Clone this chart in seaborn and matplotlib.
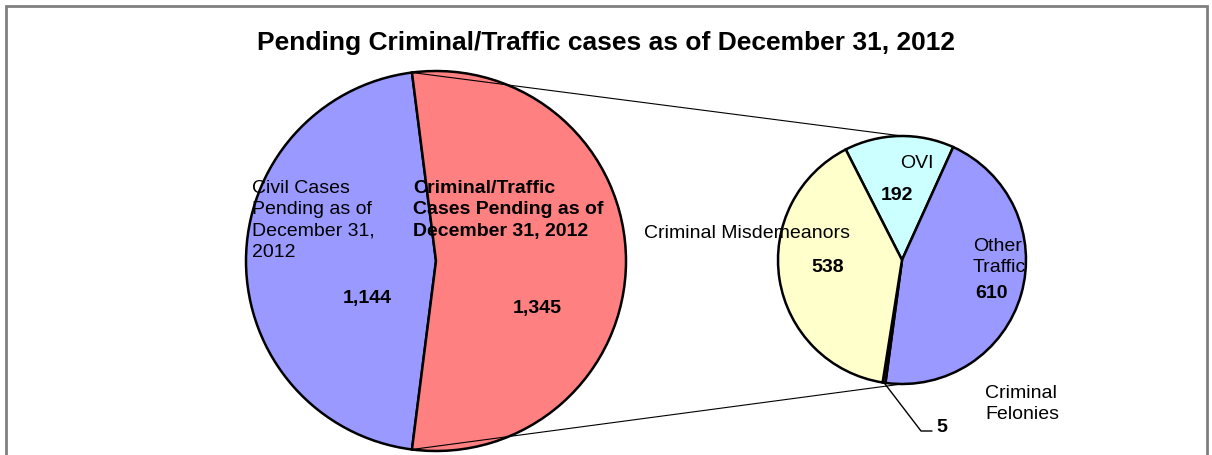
import numpy as np
import matplotlib.pyplot as plt
import seaborn as sns
from matplotlib.patches import Rectangle

# Chart data
main_labels = ["Civil Cases\nPending as of\nDecember 31,\n2012",
               "Criminal/Traffic\nCases Pending as of\nDecember 31, 2012"]
main_values = [1144, 1345]
main_colors = ["#9999FF", "#FF8080"]

sub_labels = ["OVI", "Other\nTraffic", "Criminal\nFelonies", "Criminal Misdemeanors"]
sub_values = [192, 610, 5, 538]
sub_colors = ["#CCFFFF", "#9999FF", "#993366", "#FFFFCC"]

title = "Pending Criminal/Traffic cases as of December 31, 2012"

sns.set_theme(style="white")
plt.rcParams['font.family'] = ['Liberation Sans', 'DejaVu Sans']
plt.rcParams['text.color'] = 'black'

W, H = 1212, 455
fig = plt.figure(figsize=(W / 100, H / 100), dpi=100)
ax = fig.add_axes([0, 0, 1, 1])


def py(y):
    # pixel row -> data y
    return H - y


# layout of the two pies (pixels)
big_c, big_r = (436, py(261)), 190
sm_c, sm_r = (902, py(260)), 124

crim_frac = main_values[1] / sum(main_values)
big_start = 180 * crim_frac
wedge_kw = dict(edgecolor="black", linewidth=1.8)
ax.pie(main_values, colors=main_colors, startangle=big_start, counterclock=True,
       center=big_c, radius=big_r, wedgeprops=wedge_kw, frame=False)

sm_start = 117
ax.pie(sub_values, colors=sub_colors, startangle=sm_start, counterclock=False,
       center=sm_c, radius=sm_r, wedgeprops=wedge_kw, frame=False)

# connector lines between pies
for sgn in (1, -1):
    a = np.deg2rad(sgn * big_start)
    x0 = big_c[0] + big_r * np.cos(a)
    y0 = big_c[1] + big_r * np.sin(a)
    ax.plot([x0, sm_c[0]], [y0, sm_c[1] + sgn * sm_r], color="black", lw=0.8)

# leader line for the tiny felonies slice
tot = sum(sub_values)
fel_mid = sm_start - 360 * (sub_values[0] + sub_values[1] + sub_values[2] / 2) / tot
fa = np.deg2rad(fel_mid)
fx = sm_c[0] + sm_r * np.cos(fa)
fy = sm_c[1] + sm_r * np.sin(fa)
ax.plot([fx, 921, 932], [fy, py(431), py(431)], color="black", lw=1.0)

fs = 14
ls = 1.33
# big pie labels
ax.text(252, py(180), main_labels[0], fontsize=fs, ha="left", va="top", linespacing=ls)
ax.text(413, py(180), main_labels[1], fontsize=fs, ha="left", va="top",
        fontweight="bold", linespacing=ls)
ax.text(367, py(299), f"{main_values[0]:,}", fontsize=fs, fontweight="bold",
        ha="center", va="center")
ax.text(537, py(309), f"{main_values[1]:,}", fontsize=fs, fontweight="bold",
        ha="center", va="center")

# small pie labels
ax.text(917, py(163), sub_labels[0], fontsize=fs, ha="center", va="center")
ax.text(897, py(195), f"{sub_values[0]:,}", fontsize=fs, fontweight="bold",
        ha="center", va="center")
ax.text(973, py(257), sub_labels[1], fontsize=fs, ha="left", va="center", linespacing=ls)
ax.text(991, py(294), f"{sub_values[1]:,}", fontsize=fs, fontweight="bold",
        ha="center", va="center")
ax.text(985, py(404), sub_labels[2], fontsize=fs, ha="left", va="center", linespacing=ls)
ax.text(942, py(428), f"{sub_values[2]:,}", fontsize=fs, fontweight="bold",
        ha="center", va="center")
ax.text(747, py(234), sub_labels[3], fontsize=fs, ha="center", va="center")
ax.text(828, py(268), f"{sub_values[3]:,}", fontsize=fs, fontweight="bold",
        ha="center", va="center")

ax.set_aspect("equal")
ax.set_xlim(0, W)
ax.set_ylim(0, H)
ax.axis("off")

# title and chart frame
fig.text(0.5, 1 - 43 / H, title, fontsize=19, fontweight="bold", ha="center", va="center")
fig.patches.append(Rectangle((6 / W, -0.1), (1207 - 6) / W, 1.1 - 6 / H,
                             transform=fig.transFigure, fill=False,
                             edgecolor="#808080", linewidth=2))
# descender of the page heading peeking in above the frame
fig.text(545 / W, 1 + 12 / H, "g", fontsize=40, fontweight="bold", ha="center",
         va="baseline", color="black")

fig.savefig("out.png", dpi=100)
